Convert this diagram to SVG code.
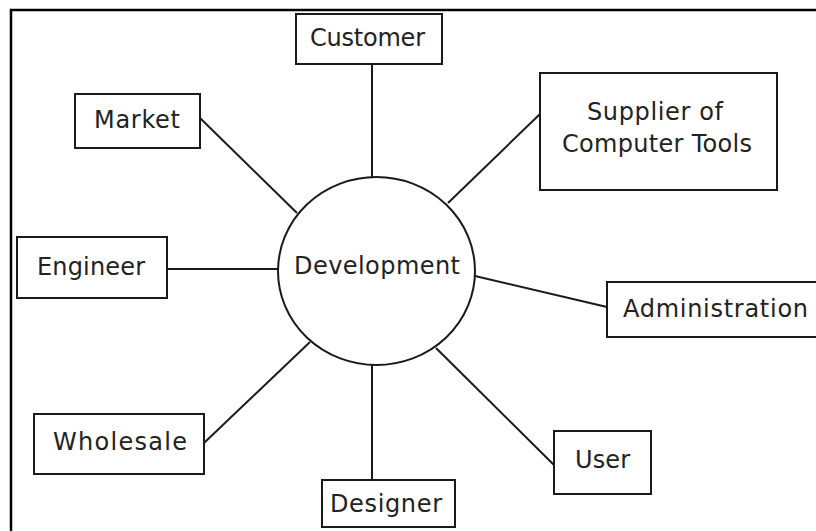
<svg xmlns="http://www.w3.org/2000/svg" width="816" height="531" viewBox="0 0 816 531">
  <style>
    .box { fill: #ffffff; stroke: #1a1a1a; stroke-width: 2; }
    .hub { fill: #ffffff; stroke: #1a1a1a; stroke-width: 2; }
    .lbl { font-family: "DejaVu Sans", "Liberation Sans", sans-serif; font-size: 24px; fill: #222222; }
    .conn line { stroke: #1a1a1a; stroke-width: 2; }
    .frame { stroke: #000000; stroke-width: 2.5; fill: none; }
  </style>
  <rect width="816" height="531" fill="#ffffff"/>
  <path class="frame" d="M11,531 L11,10 L816,10"/>

  <g id="connectors" class="conn">
    <line x1="372" y1="64" x2="372" y2="178"/>
    <line x1="200" y1="118" x2="297" y2="213"/>
    <line x1="540" y1="114" x2="448" y2="203"/>
    <line x1="167" y1="269" x2="278" y2="269"/>
    <line x1="475" y1="276" x2="607" y2="307"/>
    <line x1="204" y1="443" x2="310" y2="342"/>
    <line x1="372" y1="365" x2="372" y2="480"/>
    <line x1="436" y1="348" x2="554" y2="465"/>
  </g>

  <g id="development">
    <ellipse class="hub" cx="376.5" cy="271" rx="98.5" ry="94"/>
    <text class="lbl" x="294" y="274" textLength="166" lengthAdjust="spacing">Development</text>
  </g>
  <g id="customer">
    <rect class="box" x="296" y="14" width="146" height="50"/>
    <text class="lbl" x="310" y="46" textLength="115" lengthAdjust="spacing">Customer</text>
  </g>
  <g id="market">
    <rect class="box" x="75" y="94" width="125" height="54"/>
    <text class="lbl" x="94" y="128" textLength="86" lengthAdjust="spacing">Market</text>
  </g>
  <g id="supplier">
    <rect class="box" x="540" y="73" width="237" height="117"/>
    <text class="lbl" x="587" y="120" textLength="136" lengthAdjust="spacing">Supplier of</text>
    <text class="lbl" x="562" y="152" textLength="190" lengthAdjust="spacing">Computer Tools</text>
  </g>
  <g id="engineer">
    <rect class="box" x="17" y="237" width="150" height="61"/>
    <text class="lbl" x="37" y="275" textLength="108" lengthAdjust="spacing">Engineer</text>
  </g>
  <g id="administration">
    <rect class="box" x="607" y="282" width="220" height="55"/>
    <text class="lbl" x="623" y="317" textLength="185" lengthAdjust="spacing">Administration</text>
  </g>
  <g id="wholesale">
    <rect class="box" x="34" y="414" width="170" height="60"/>
    <text class="lbl" x="53" y="450" textLength="134" lengthAdjust="spacing">Wholesale</text>
  </g>
  <g id="user">
    <rect class="box" x="554" y="431" width="97" height="63"/>
    <text class="lbl" x="575" y="468" textLength="55" lengthAdjust="spacing">User</text>
  </g>
  <g id="designer">
    <rect class="box" x="322" y="480" width="133" height="47"/>
    <text class="lbl" x="330" y="512" textLength="112" lengthAdjust="spacing">Designer</text>
  </g>
</svg>
